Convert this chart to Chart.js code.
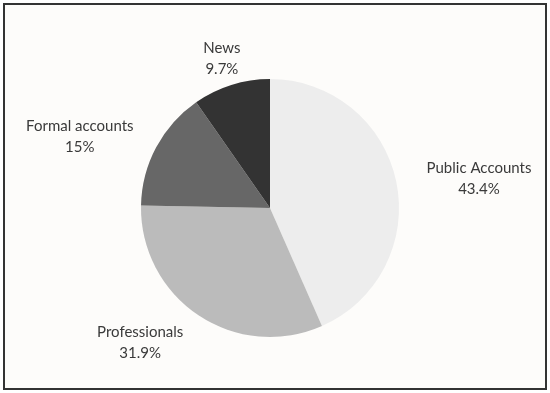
<!DOCTYPE html>
<html>
<head>
<meta charset="utf-8">
<script src="https://cdn.jsdelivr.net/npm/chart.js@4/dist/chart.umd.min.js"></script>
<style>
    body { margin: 0; background: #ffffff; }
    #frame {
        position: absolute;
        left: 3px;
        top: 3px;
        width: 540px;
        height: 383px;
        border: 2px solid #333333;
        background: #fdfcfa;
    }
    #shareChart { display: block; }
</style>
</head>
<body>
<div id="frame">
    <canvas id="shareChart" width="540" height="383"></canvas>
</div>
<script>
// Source categories and their share (percent)
const categories = ["Public Accounts", "Professionals", "Formal accounts", "News"];
const shares = [43.4, 31.9, 15, 9.7];
const shareLabels = ["43.4%", "31.9%", "15%", "9.7%"];
const sliceColors = ['#ededed', '#bbbbbb', '#676767', '#333333'];

// small hand nudges so labels sit where the original put them
const labelNudge = [[6, 7], [-20, -12], [-6, 12], [4, 19]];

/* Labels outside each slice, two lines: name + percent */
const outsideLabels = {
    id: 'outsideLabels',
    afterDatasetsDraw(chart) {
        const ctx = chart.ctx;
        const arcs = chart.getDatasetMeta(0).data;
        const lineHeight = 21;
        const pad = 26;
        ctx.save();
        ctx.font = '15px Lato';
        ctx.fillStyle = '#3a3a3a';
        ctx.textAlign = 'center';
        ctx.textBaseline = 'middle';
        arcs.forEach((arc, i) => {
            const mid = (arc.startAngle + arc.endAngle) / 2;
            const dx = Math.cos(mid);
            const dy = Math.sin(mid);
            const w = Math.max(ctx.measureText(categories[i]).width, ctx.measureText(shareLabels[i]).width);
            const h = lineHeight * 2;
            const cx = arc.x + dx * (arc.outerRadius + pad) + dx * w / 2 + labelNudge[i][0];
            const cy = arc.y + dy * (arc.outerRadius + pad) + dy * h / 2 + labelNudge[i][1];
            ctx.fillText(categories[i], cx, cy - lineHeight / 2);
            ctx.fillText(shareLabels[i], cx, cy + lineHeight / 2);
        });
        ctx.restore();
    }
};

const ctx = document.getElementById('shareChart').getContext('2d');
const shareChart = new Chart(ctx, {
    type: 'pie',
    data: {
        labels: categories,
        datasets: [{
            data: shares,
            backgroundColor: sliceColors,
            borderWidth: 0,
        }]
    },
    options: {
        responsive: false,
        animation: false,
        layout: {
            padding: { top: 74, bottom: 51, left: 136, right: 146 }
        },
        plugins: {
            legend: { display: false },
            tooltip: { enabled: false },
        }
    },
    plugins: [outsideLabels]
});
</script>
</body>
</html>
